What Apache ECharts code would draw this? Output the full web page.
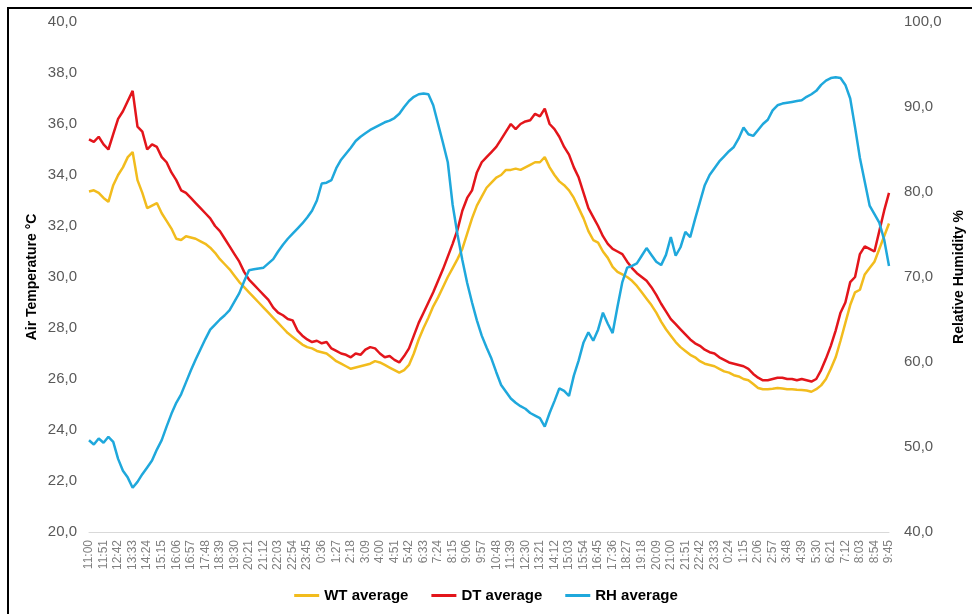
<!DOCTYPE html>
<html>
<head>
<meta charset="utf-8">
<title>Air temperature and relative humidity</title>
<script src="https://cdn.jsdelivr.net/npm/echarts@6/dist/echarts.min.js"></script>
<style>
  html, body { margin: 0; padding: 0; background: #ffffff; }
  #chart { width: 972px; height: 614px; }
</style>
</head>
<body>
<div id="chart"></div>
<script>
// Logging runs from 11:00 on day 1 to 9:45 on day 3, one reading every 17 minutes.
const startMinutes = 11 * 60;
const stepMinutes = 17;

// Wet-bulb temperature average (°C)
const wtAverage = [
  33.35, 33.4, 33.3, 33.1, 32.95, 33.6, 34.0, 34.3, 34.7, 34.9,
  33.8, 33.3, 32.7, 32.8, 32.9, 32.5, 32.2, 31.9, 31.5, 31.45,
  31.6, 31.55, 31.5, 31.4, 31.3, 31.15, 30.95, 30.7, 30.5, 30.3,
  30.05, 29.8, 29.6, 29.4, 29.2, 29.0, 28.8, 28.6, 28.4, 28.2,
  28.0, 27.8, 27.65, 27.5, 27.35, 27.25, 27.2, 27.1, 27.05, 27.0,
  26.85, 26.7, 26.6, 26.5, 26.4, 26.45, 26.5, 26.55, 26.6, 26.7,
  26.65, 26.55, 26.45, 26.35, 26.25, 26.35, 26.55, 27.0, 27.55, 28.0,
  28.4, 28.85, 29.2, 29.6, 30.0, 30.35, 30.7, 31.1, 31.7, 32.3,
  32.8, 33.15, 33.5, 33.7, 33.9, 34.0, 34.2, 34.2, 34.25, 34.2,
  34.3, 34.4, 34.5, 34.5, 34.7, 34.3, 34.0, 33.75, 33.6, 33.4,
  33.1, 32.7, 32.3, 31.8, 31.45, 31.35, 31.0, 30.75, 30.4, 30.2,
  30.1, 30.0, 29.85, 29.65, 29.4, 29.15, 28.9, 28.6, 28.25, 27.95,
  27.7, 27.45, 27.25, 27.1, 26.95, 26.85, 26.7, 26.6, 26.55, 26.5,
  26.4, 26.3, 26.25, 26.15, 26.1, 26.0, 25.95, 25.8, 25.65, 25.6,
  25.6, 25.62, 25.65, 25.63, 25.6, 25.6, 25.58, 25.57, 25.55, 25.5,
  25.6, 25.75, 26.0, 26.4, 26.85, 27.5, 28.2, 28.9, 29.4, 29.5,
  30.1, 30.35, 30.6, 31.1, 31.6, 32.1
];

// Dry-bulb temperature average (°C)
const dtAverage = [
  35.4, 35.3, 35.5, 35.2, 35.0, 35.6, 36.2, 36.5, 36.9, 37.3,
  35.9, 35.7, 35.0, 35.2, 35.1, 34.7, 34.5, 34.1, 33.8, 33.4,
  33.3, 33.1, 32.9, 32.7, 32.5, 32.3, 32.0, 31.8, 31.5, 31.2,
  30.9, 30.6, 30.2, 29.9, 29.7, 29.5, 29.3, 29.1, 28.8, 28.6,
  28.5, 28.35, 28.3, 27.9, 27.7, 27.55, 27.45, 27.5, 27.4, 27.45,
  27.2, 27.1, 27.0, 26.95, 26.85, 27.0, 26.95, 27.15, 27.25, 27.2,
  27.0, 26.85, 26.9, 26.75, 26.65, 26.9, 27.2, 27.7, 28.2, 28.6,
  29.0, 29.4, 29.85, 30.3, 30.8, 31.3, 31.85, 32.6, 33.1, 33.4,
  34.1, 34.5, 34.7, 34.9, 35.1, 35.4, 35.7, 36.0, 35.8, 36.0,
  36.1, 36.15, 36.4, 36.3, 36.6, 36.0, 35.8, 35.5, 35.1, 34.8,
  34.3, 33.9, 33.3, 32.7, 32.35, 32.0, 31.6, 31.3, 31.1, 31.0,
  30.9, 30.6, 30.35, 30.15, 30.0, 29.85, 29.6, 29.3, 28.95, 28.65,
  28.35, 28.15, 27.95, 27.75, 27.55, 27.4, 27.3, 27.15, 27.05, 27.0,
  26.85, 26.75, 26.65, 26.6, 26.55, 26.5, 26.4, 26.2, 26.05, 25.95,
  25.95, 26.0, 26.05, 26.05, 26.0, 26.0, 25.95, 26.0, 25.95, 25.9,
  26.0, 26.35, 26.8, 27.3, 27.9, 28.6, 29.0, 29.8, 30.0, 30.9,
  31.2, 31.1, 31.0, 31.8, 32.6, 33.3
];

// Relative humidity average (%)
const rhAverage = [
  50.8, 50.3, 51.0, 50.5, 51.2, 50.6, 48.6, 47.2, 46.4, 45.2,
  45.9, 46.8, 47.6, 48.4, 49.7, 50.8, 52.4, 53.9, 55.2, 56.2,
  57.6, 59.0, 60.3, 61.5, 62.7, 63.8, 64.4, 65.0, 65.5, 66.1,
  67.1, 68.1, 69.5, 70.8, 70.9, 71.0, 71.1, 71.6, 72.1, 73.0,
  73.8, 74.5, 75.1, 75.7, 76.3, 77.0, 77.8, 79.0, 81.0, 81.1,
  81.4, 82.8, 83.8, 84.5, 85.2, 86.0, 86.5, 86.9, 87.3, 87.6,
  87.9, 88.2, 88.4, 88.7, 89.2, 90.0, 90.7, 91.2, 91.5, 91.6,
  91.5, 90.2, 88.0, 85.8, 83.5, 78.5, 75.0, 72.0, 69.3, 67.0,
  64.9, 63.1, 61.7, 60.4, 58.8, 57.3, 56.5, 55.7, 55.2, 54.8,
  54.5, 54.0, 53.7, 53.4, 52.4, 54.0, 55.4, 56.9, 56.6, 56.0,
  58.4, 60.2, 62.3, 63.5, 62.5, 63.8, 65.8, 64.5, 63.4, 66.5,
  69.4, 71.1, 71.3, 71.6, 72.5, 73.4, 72.6, 71.8, 71.4, 72.6,
  74.7, 72.5, 73.5, 75.3, 74.7, 76.8, 78.8, 80.8, 82.0, 82.8,
  83.6, 84.2, 84.8, 85.3, 86.3, 87.6, 86.8, 86.6, 87.3, 88.0,
  88.5, 89.6, 90.2, 90.4, 90.5, 90.6, 90.7, 90.8, 91.2, 91.5,
  91.9, 92.6, 93.1, 93.4, 93.5, 93.4, 92.6, 91.0, 87.6, 84.0,
  81.2, 78.4, 77.4, 76.4, 74.4, 71.3
];

// Time-of-day category for each reading (H:MM)
const timeCategories = wtAverage.map((_, i) => {
  const m = (startMinutes + i * stepMinutes) % 1440;
  return Math.floor(m / 60) + ':' + String(m % 60).padStart(2, '0');
});

const seriesNames = ['WT average', 'DT average', 'RH average'];
const seriesColors = ['#F2BC1D', '#E3151B', '#1FA8DC'];

const commaDecimal = v => v.toFixed(1).replace('.', ',');
const fontFamily = '"Liberation Sans", Arial, sans-serif';

const chart = echarts.init(document.getElementById('chart'), null, { renderer: 'canvas' });

chart.setOption({
  animation: false,
  backgroundColor: '#ffffff',
  textStyle: { fontFamily: fontFamily },
  color: seriesColors,
  graphic: [{
    type: 'rect',
    silent: true,
    shape: { x: 8, y: 8, width: 980, height: 630 },
    style: { fill: 'none', stroke: '#000000', lineWidth: 2 }
  }],
  grid: { left: 89, right: 83, top: 22, bottom: 82, containLabel: false, outerBoundsMode: 'none' },
  legend: {
    data: seriesNames,
    bottom: 6,
    left: 'center',
    icon: 'rect',
    itemWidth: 25,
    itemHeight: 3,
    itemGap: 23,
    textStyle: { fontFamily: fontFamily, fontSize: 15, fontWeight: 'bold', color: '#000000' }
  },
  xAxis: {
    type: 'category',
    data: timeCategories,
    boundaryGap: false,
    axisLine: { lineStyle: { color: '#d9d9d9', width: 1 } },
    axisTick: { show: false },
    splitLine: { show: false },
    axisLabel: {
      interval: 2,
      rotate: 90,
      margin: 8,
      fontSize: 12,
      color: '#808080',
      fontFamily: fontFamily
    }
  },
  yAxis: [{
    type: 'value',
    min: 20,
    max: 40,
    interval: 2,
    position: 'left',
    name: 'Air Temperature °C',
    nameLocation: 'middle',
    nameRotate: 90,
    nameGap: 50,
    nameMoveOverlap: false,
    nameTextStyle: { fontFamily: fontFamily, fontSize: 14, fontWeight: 'bold', color: '#000000' },
    axisLine: { show: false },
    axisTick: { show: false },
    splitLine: { show: false },
    axisLabel: { formatter: commaDecimal, margin: 12, fontSize: 15, color: '#595959', fontFamily: fontFamily }
  }, {
    type: 'value',
    min: 40,
    max: 100,
    interval: 10,
    position: 'right',
    name: 'Relative Humidity %',
    nameLocation: 'middle',
    nameRotate: 90,
    nameGap: 62,
    nameTextStyle: { fontFamily: fontFamily, fontSize: 14, fontWeight: 'bold', color: '#000000' },
    axisLine: { show: false },
    axisTick: { show: false },
    splitLine: { show: false },
    axisLabel: { formatter: commaDecimal, margin: 15, fontSize: 15, color: '#595959', fontFamily: fontFamily }
  }],
  series: [
    { name: seriesNames[0], type: 'line', yAxisIndex: 0, data: wtAverage, showSymbol: false, symbol: 'none', lineStyle: { width: 2.5, color: seriesColors[0] } },
    { name: seriesNames[1], type: 'line', yAxisIndex: 0, data: dtAverage, showSymbol: false, symbol: 'none', lineStyle: { width: 2.5, color: seriesColors[1] } },
    { name: seriesNames[2], type: 'line', yAxisIndex: 1, data: rhAverage, showSymbol: false, symbol: 'none', lineStyle: { width: 2.5, color: seriesColors[2] } }
  ]
});
</script>
</body>
</html>
